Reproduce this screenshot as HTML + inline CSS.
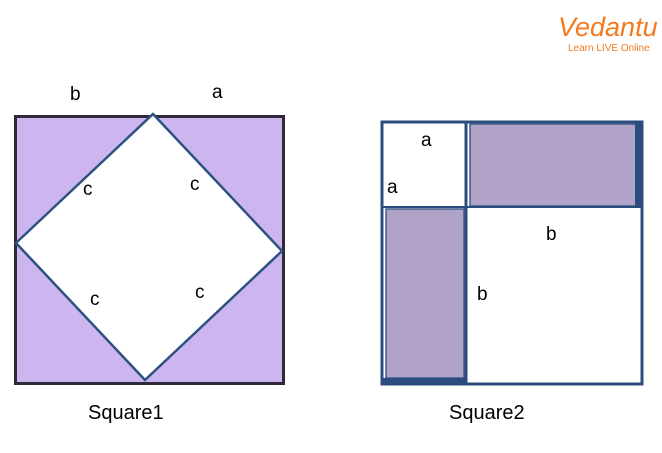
<!DOCTYPE html>
<html><head><meta charset="utf-8"><style>
html,body{margin:0;padding:0;background:#fff;width:662px;height:453px;overflow:hidden}
</style></head><body>
<svg width="662" height="453" viewBox="0 0 662 453" xmlns="http://www.w3.org/2000/svg" font-family="Liberation Sans, DejaVu Sans, sans-serif">
<rect x="15.5" y="116.5" width="268" height="267" fill="#cdb6ef" stroke="#2f2a3a" stroke-width="3"/>
<polygon points="153,114 282,251 145,380 16,243" fill="#fff" stroke="#2c5280" stroke-width="2.5"/>
<g font-size="19" fill="#000">
<text x="70" y="100">b</text><text x="212" y="98">a</text>
<text x="83" y="195">c</text><text x="190" y="190">c</text>
<text x="90" y="305">c</text><text x="195" y="298">c</text>
</g>
<rect x="382" y="122" width="260" height="262" fill="#fff" stroke="#2b4d7e" stroke-width="3"/>
<rect x="470" y="124" width="166" height="82" fill="#b1a2c8" stroke="#3d5f8a" stroke-width="1.5"/>
<rect x="635" y="123" width="6" height="84" fill="#2b4d7e"/>
<rect x="386" y="209" width="78" height="169" fill="#b1a2c8" stroke="#3d5f8a" stroke-width="1.5"/>
<line x1="466" y1="122" x2="466" y2="384" stroke="#2b4d7e" stroke-width="3"/>
<line x1="382" y1="207" x2="642" y2="207" stroke="#2b4d7e" stroke-width="2"/>
<rect x="382" y="378" width="84" height="5" fill="#2b4d7e"/>
<g font-size="19" fill="#000">
<text x="421" y="146">a</text><text x="387" y="193">a</text>
<text x="546" y="240">b</text><text x="477" y="300">b</text>
</g>
<g font-size="20" fill="#000">
<text x="88" y="419">Square1</text><text x="449" y="419">Square2</text>
</g>
<text x="558" y="36" font-size="27" fill="#f47a20" font-style="italic" font-family="Liberation Sans, sans-serif">Vedantu</text>
<text x="568" y="51" font-size="10" fill="#f47a20">Learn LIVE Online</text>
</svg>
</body></html>
